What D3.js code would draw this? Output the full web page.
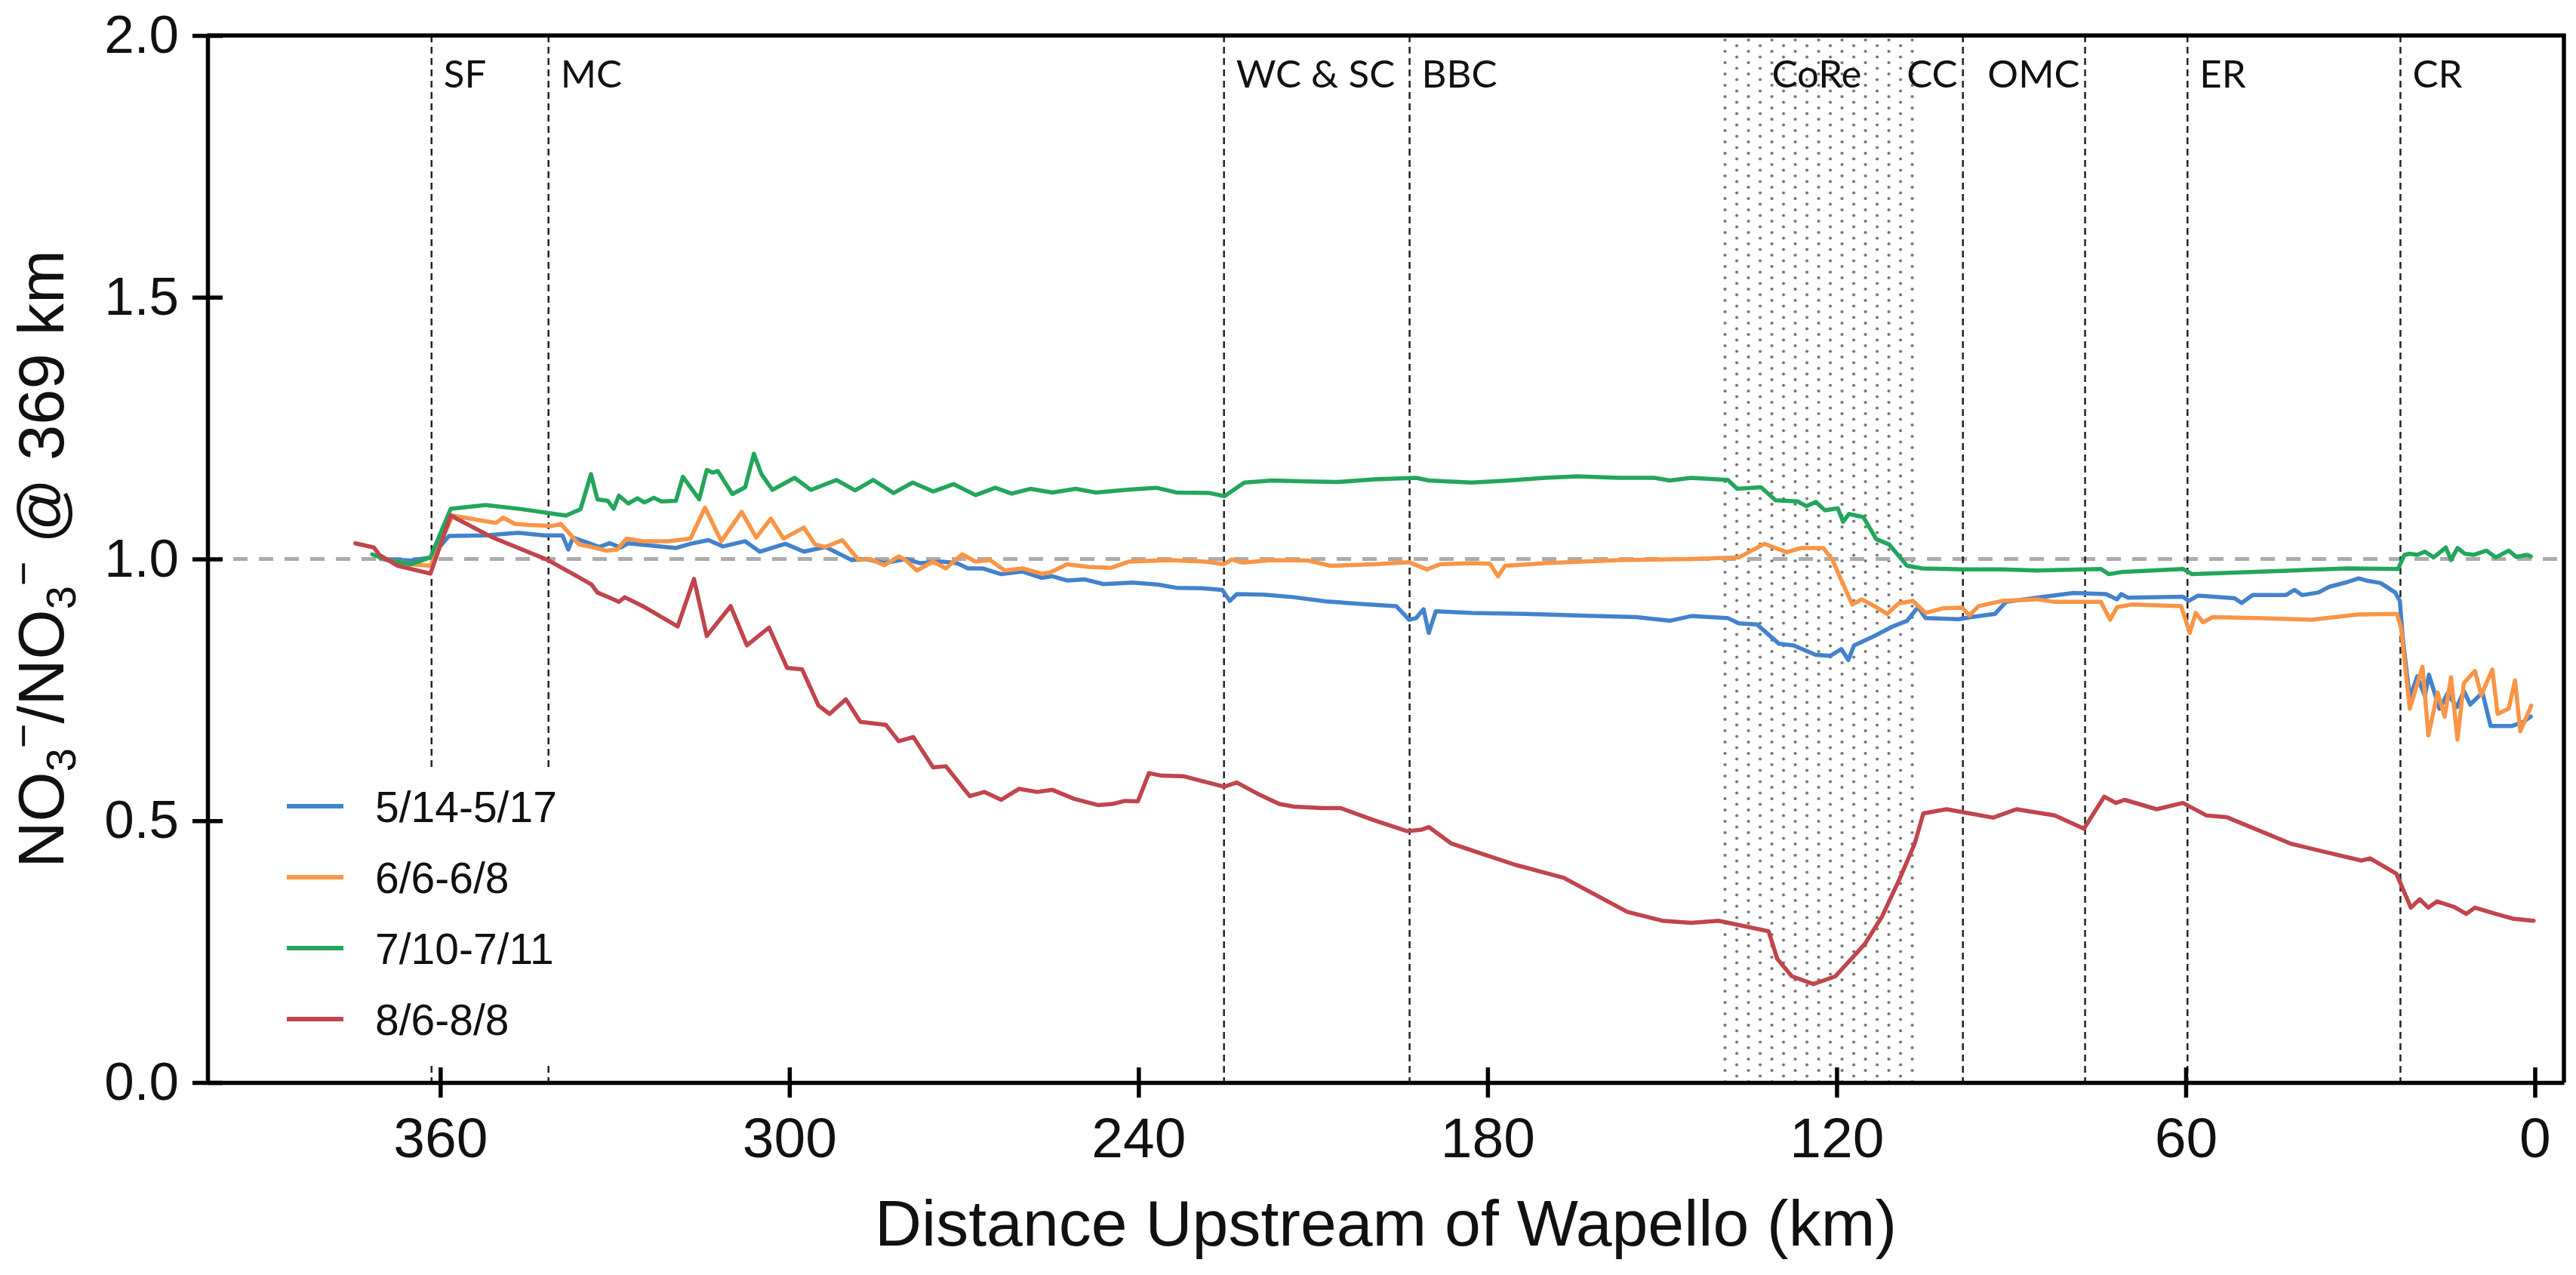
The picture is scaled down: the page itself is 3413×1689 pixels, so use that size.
<!DOCTYPE html>
<html>
<head>
<meta charset="utf-8">
<script src="https://cdn.jsdelivr.net/npm/d3@7"></script>
<style>
    body { margin: 0; background: #fff; }
    svg { display: block; }
</style>
</head>
<body>
<svg id="chart" width="3413" height="1689"></svg>
<script>
// survey dates, one line each
const seriesNames = ['5/14-5/17', '6/6-6/8', '7/10-7/11', '8/6-8/8'];
const seriesColors = ['#4382cc', '#f99546', '#23a65b', '#c0454c'];

// [km upstream of Wapello, NO3 ratio]
const maySeries = [[370.2,1.0],[365,0.997],[361.7,1.003],[358.5,1.044],[352.2,1.045],[346.6,1.05],[342.2,1.045],[339,1.045],[338,1.018],[337.2,1.041],[334.6,1.031],[332.7,1.023],[330.9,1.03],[329,1.022],[327.7,1.03],[324,1.026],[319.5,1.021],[317,1.029],[313.9,1.036],[311.4,1.024],[307.6,1.034],[305.1,1.014],[300.7,1.029],[297.5,1.014],[293.8,1.023],[289.3,0.998],[286.8,1.0],[283.7,0.992],[280,1.0],[277.5,0.992],[273.7,0.995],[271.2,0.992],[269.3,0.982],[266.8,0.982],[263.6,0.971],[259.9,0.976],[256.7,0.964],[254.8,0.967],[252.3,0.959],[249.2,0.961],[246,0.952],[241,0.955],[236.6,0.951],[233.5,0.945],[229.1,0.944],[225.6,0.941],[224.3,0.92],[223.1,0.933],[218.4,0.932],[213.3,0.927],[207.7,0.919],[201.4,0.914],[195.7,0.91],[193.5,0.884],[192.3,0.887],[191,0.904],[190.1,0.859],[188.9,0.9],[182.7,0.897],[173.3,0.895],[163.8,0.892],[154.4,0.889],[148.7,0.882],[145,0.891],[138.7,0.887],[136.8,0.877],[133.7,0.875],[129.9,0.838],[127.4,0.835],[123.6,0.817],[121.1,0.815],[119.2,0.828],[118,0.807],[117,0.835],[113.5,0.853],[110.4,0.871],[107.9,0.882],[106,0.908],[104.7,0.887],[99,0.885],[96.9,0.889],[92.8,0.895],[90.9,0.918],[85.6,0.926],[79.3,0.935],[73.7,0.933],[71.8,0.923],[71.1,0.933],[69.9,0.926],[60.5,0.928],[59.5,0.92],[57.9,0.93],[51.6,0.925],[50.4,0.916],[48.5,0.931],[42.8,0.931],[41.3,0.941],[40,0.931],[37.2,0.936],[35.3,0.947],[32.2,0.956],[30.3,0.963],[29,0.959],[26.5,0.954],[24,0.936],[23.2,0.92],[22.7,0.848],[21.5,0.735],[20.2,0.776],[18.9,0.738],[18.2,0.779],[16.4,0.714],[15,0.743],[13.4,0.717],[12.2,0.748],[11.1,0.722],[9,0.745],[7.6,0.681],[3.9,0.681],[2,0.689],[0.7,0.699]];

const juneSeries = [[369.9,1.0],[365,0.99],[361.7,0.987],[357.9,1.083],[352.2,1.072],[350.4,1.069],[349.2,1.079],[347.2,1.067],[344.7,1.065],[340.9,1.063],[339.3,1.067],[337.8,1.049],[336.2,1.028],[334,1.023],[331.5,1.016],[329.6,1.018],[328,1.039],[325.2,1.034],[320.8,1.034],[317,1.039],[314.5,1.098],[311.7,1.034],[308.2,1.09],[305.7,1.041],[303.2,1.077],[301,1.039],[297.5,1.06],[295.6,1.028],[293.8,1.023],[290.9,1.036],[288.1,0.998],[286.2,1.0],[283.7,0.988],[281.2,1.005],[280,0.998],[278.1,0.978],[275.3,0.995],[273.1,0.982],[270.3,1.009],[268,0.995],[265.5,0.998],[263,0.978],[259.9,0.982],[256.7,0.972],[255.2,0.974],[252.3,0.99],[248.6,0.985],[244.8,0.983],[241.6,0.995],[234.7,0.998],[228.4,0.995],[225.3,0.99],[224,0.999],[222.1,0.993],[217.1,0.998],[210.8,0.997],[207,0.987],[199.5,0.99],[193.5,0.994],[190.4,0.98],[188.2,0.99],[182.7,0.992],[179.6,0.991],[178.2,0.967],[177,0.987],[170.1,0.992],[157.5,0.998],[145,1.0],[136.8,1.003],[132.4,1.029],[128.6,1.013],[126.1,1.021],[122.3,1.021],[120.7,0.998],[119.5,0.967],[117.3,0.913],[115.7,0.923],[113.5,0.91],[111.3,0.895],[109.4,0.915],[106.9,0.92],[104.7,0.897],[101.6,0.906],[98.4,0.907],[97.2,0.892],[95.6,0.91],[91.5,0.92],[85.6,0.923],[82.5,0.918],[74.6,0.918],[73,0.884],[71.8,0.908],[69.3,0.913],[60.8,0.91],[59.3,0.859],[58.3,0.897],[57,0.879],[55.4,0.889],[47.9,0.887],[38.4,0.884],[30.3,0.894],[23.7,0.895],[23,0.869],[21.5,0.714],[19.3,0.794],[18.3,0.663],[16.7,0.745],[15.5,0.699],[14.4,0.774],[13.3,0.655],[12.2,0.763],[10.3,0.786],[9.2,0.74],[7.3,0.789],[6.4,0.704],[4.5,0.714],[3.4,0.768],[2.5,0.671],[0.6,0.72]];

const julySeries = [[371.7,1.009],[369.2,0.998],[365,0.99],[361.7,1.003],[358.2,1.096],[352.2,1.103],[345.9,1.095],[341.5,1.088],[338.4,1.083],[335.9,1.095],[334.1,1.162],[333,1.114],[331.2,1.111],[330.2,1.096],[329.3,1.121],[327.7,1.106],[326.1,1.116],[324.9,1.108],[323.3,1.117],[322,1.11],[319.5,1.111],[318.3,1.157],[315.5,1.114],[314.2,1.17],[313.2,1.165],[312.3,1.168],[309.8,1.124],[307.6,1.137],[306.1,1.201],[304.8,1.162],[302.9,1.132],[299.1,1.155],[296.3,1.132],[291.9,1.151],[288.7,1.131],[285.6,1.151],[282.1,1.126],[278.8,1.146],[275.3,1.129],[271.8,1.143],[268,1.122],[264.6,1.136],[261.8,1.125],[258.6,1.134],[254.8,1.127],[250.8,1.134],[247.3,1.127],[242.3,1.132],[236.9,1.136],[233.5,1.127],[227.8,1.126],[225.2,1.12],[221.8,1.146],[217.1,1.15],[210.8,1.148],[205.8,1.147],[199.5,1.152],[192.3,1.155],[190.1,1.15],[182.7,1.146],[176.4,1.15],[170.1,1.155],[164.5,1.158],[157.5,1.155],[151.3,1.155],[148.7,1.15],[145,1.155],[138.7,1.151],[137.1,1.134],[133,1.137],[130.5,1.112],[126.7,1.11],[125.2,1.101],[123.6,1.109],[122,1.093],[119.8,1.097],[118.9,1.071],[117.9,1.086],[115.4,1.08],[113.2,1.038],[111,1.028],[107.9,0.987],[105.3,0.982],[98.4,0.98],[91.5,0.98],[85.6,0.978],[77.4,0.98],[74.6,0.981],[73.2,0.971],[71.1,0.975],[60.5,0.981],[58.9,0.971],[54.2,0.973],[41.6,0.978],[32.2,0.982],[23.5,0.981],[22.4,1.008],[21.5,1.01],[20.2,1.008],[18.9,1.014],[17.4,1.003],[15.3,1.022],[14.4,0.998],[13.3,1.021],[12,1.01],[10.5,1.008],[8.3,1.016],[6.7,1.003],[4.5,1.016],[3.2,1.004],[1.3,1.008],[0.7,1.005]];

const augustSeries = [[374.6,1.03],[371.4,1.022],[370.5,1.008],[367.3,0.987],[361.7,0.972],[358.2,1.083],[351,1.041],[341.5,0.998],[336.5,0.967],[334,0.951],[333,0.936],[330.9,0.926],[329.3,0.918],[328.3,0.927],[325.2,0.91],[319.2,0.871],[316.4,0.962],[314.2,0.853],[310.1,0.91],[307.3,0.835],[303.5,0.869],[300.4,0.792],[297.8,0.789],[295,0.72],[293.1,0.704],[290.3,0.732],[287.8,0.689],[283.4,0.683],[281.2,0.652],[278.7,0.66],[275.3,0.602],[273.1,0.604],[269,0.547],[266.5,0.555],[263.6,0.54],[260.5,0.561],[257.4,0.555],[254.8,0.559],[251.1,0.542],[247,0.53],[244.5,0.532],[242.3,0.538],[240.1,0.537],[238.2,0.591],[236,0.586],[232.2,0.585],[229.1,0.576],[225.3,0.565],[223.1,0.573],[219.6,0.552],[215.8,0.532],[213.3,0.527],[208.3,0.524],[205.2,0.524],[199.5,0.501],[193.8,0.48],[191.3,0.483],[190.1,0.488],[186.3,0.457],[181.8,0.44],[175.3,0.416],[166.9,0.391],[156,0.326],[150,0.309],[145,0.305],[140.3,0.309],[131.7,0.289],[130.2,0.236],[127.7,0.203],[124,0.188],[120.2,0.203],[115.2,0.264],[112.2,0.317],[109.1,0.391],[106.6,0.456],[105.1,0.514],[101.1,0.522],[93.1,0.506],[89.1,0.522],[82.5,0.51],[77.5,0.485],[74,0.546],[72,0.534],[70.5,0.54],[65,0.522],[60.5,0.534],[56.4,0.51],[53,0.507],[41.9,0.456],[35.9,0.44],[29.8,0.424],[28.3,0.428],[23.8,0.399],[21.3,0.334],[19.8,0.35],[18.3,0.334],[16.8,0.346],[13.8,0.335],[11.8,0.322],[10.3,0.334],[6.7,0.322],[3.8,0.313],[0.2,0.309]];

// tributaries / features along the river
const tribNames = ['SF', 'MC', 'WC & SC', 'BBC', 'CC', 'OMC', 'ER', 'CR'];
const tribKm = [361.5, 341.4, 225.3, 193.4, 98.3, 77.3, 59.7, 23.1];
const tribLabelSide = ['right', 'right', 'right', 'right', 'left', 'left', 'right', 'right'];
const coReName = 'CoRe';
const coReKm = [139.7, 105.6];

const xTicks = [360, 300, 240, 180, 120, 60, 0];
const yTicks = [0, 0.5, 1.0, 1.5, 2.0];
const referenceRatio = 1.0;

function NitrateChart(svgNode) {
    this.svg = d3.select(svgNode);
    this.props = { left: 275, right: 3397, top: 47, bottom: 1434 };
    this.font = '"Liberation Sans", Arial, sans-serif';
    this.x = d3.scaleLinear().domain([400, -5]).range([this.props.left, this.props.right]);
    this.y = d3.scaleLinear().domain([0, 2]).range([this.props.bottom, this.props.top]);
}

NitrateChart.prototype.drawCoRe = function () {
    var _this = this;
    var defs = _this.svg.append('defs');
    var pat = defs.append('pattern')
        .attr('id', 'dots')
        .attr('patternUnits', 'userSpaceOnUse')
        .attr('width', 31)
        .attr('height', 30)
        .attr('patternTransform', 'translate(' + (_this.x(coReKm[0]) + 2) + ',6)');
    // staggered dot columns
    pat.append('circle').attr('cx', 2).attr('cy', 2).attr('r', 2).style('fill', '#6e6e6e');
    pat.append('circle').attr('cx', 2).attr('cy', 17).attr('r', 2).style('fill', '#6e6e6e');
    pat.append('circle').attr('cx', 17.5).attr('cy', 9.5).attr('r', 2).style('fill', '#6e6e6e');
    pat.append('circle').attr('cx', 17.5).attr('cy', 24.5).attr('r', 2).style('fill', '#6e6e6e');
    _this.svg.append('rect')
        .attr('x', _this.x(coReKm[0]))
        .attr('y', _this.props.top)
        .attr('width', _this.x(coReKm[1]) - _this.x(coReKm[0]))
        .attr('height', _this.props.bottom - _this.props.top)
        .style('fill', 'url(#dots)');
};

NitrateChart.prototype.drawGuides = function () {
    var _this = this;
    _this.svg.append('line')
        .attr('x1', _this.props.left).attr('x2', _this.props.right)
        .attr('y1', _this.y(referenceRatio)).attr('y2', _this.y(referenceRatio))
        .style('stroke', '#ababab')
        .style('stroke-width', 5)
        .style('stroke-dasharray', '19,15');

    _this.svg.append('g').selectAll('line')
        .data(tribKm)
        .enter()
        .append('line')
        .attr('x1', function (d) { return _this.x(d) })
        .attr('x2', function (d) { return _this.x(d) })
        .attr('y1', _this.props.top)
        .attr('y2', _this.props.bottom)
        .style('stroke', '#222')
        .style('stroke-width', 2.5)
        .style('stroke-dasharray', '9,6');

    _this.svg.append('g').selectAll('text')
        .data(tribNames)
        .enter()
        .append('text')
        .attr('x', function (d, i) {
            return _this.x(tribKm[i]) + (tribLabelSide[i] === 'left' ? -7 : 16);
        })
        .attr('y', 116)
        .attr('text-anchor', function (d, i) { return tribLabelSide[i] === 'left' ? 'end' : 'start' })
        .style('font-family', 'Lato, "Open Sans", sans-serif')
        .style('font-size', '51px')
        .style('fill', '#111')
        .text(function (d) { return d });

    _this.svg.append('text')
        .attr('x', (_this.x(coReKm[0]) + _this.x(coReKm[1])) / 2 - 6)
        .attr('y', 116)
        .attr('text-anchor', 'middle')
        .style('font-family', 'Lato, "Open Sans", sans-serif')
        .style('font-size', '51px')
        .style('fill', '#111')
        .text(coReName);
};

NitrateChart.prototype.drawLines = function () {
    var _this = this;
    var line = d3.line()
        .x(function (d) { return _this.x(d[0]) })
        .y(function (d) { return _this.y(d[1]) });
    var allSeries = [maySeries, juneSeries, julySeries, augustSeries];
    _this.svg.append('g').selectAll('path')
        .data(allSeries)
        .enter()
        .append('path')
        .attr('d', line)
        .style('fill', 'none')
        .style('stroke', function (d, i) { return seriesColors[i] })
        .style('stroke-width', 5.5)
        .style('stroke-linejoin', 'round')
        .style('stroke-linecap', 'round');
};

NitrateChart.prototype.drawLegend = function () {
    var _this = this;
    var g = _this.svg.append('g').attr('class', 'legend');
    g.append('rect')
        .attr('x', 330).attr('y', 1018)
        .attr('width', 440).attr('height', 390)
        .style('fill', '#fff');
    var rowY = d3.scalePoint().domain(seriesNames).range([1068, 1350]);
    var rows = g.selectAll('g.row').data(seriesNames).enter()
        .append('g').attr('class', 'row')
        .attr('transform', function (d) { return 'translate(0,' + rowY(d) + ')' });
    rows.append('line')
        .attr('x1', 380).attr('x2', 455)
        .style('stroke', function (d, i) { return seriesColors[i] })
        .style('stroke-width', 6);
    rows.append('text')
        .attr('x', 497)
        .attr('dy', '0.36em')
        .style('font-family', _this.font)
        .style('font-size', '57px')
        .style('fill', '#111')
        .text(function (d) { return d });
};

NitrateChart.prototype.drawAxes = function () {
    var _this = this;
    var p = _this.props;
    var xAxis = d3.axisBottom(_this.x).tickValues(xTicks).tickSize(20).tickSizeOuter(0).tickPadding(26);
    var yAxis = d3.axisLeft(_this.y).tickValues(yTicks).tickSize(20).tickSizeOuter(0).tickPadding(18)
        .tickFormat(d3.format('.1f'));

    var gx = _this.svg.append('g')
        .attr('transform', 'translate(0,' + p.bottom + ')')
        .call(xAxis);
    gx.selectAll('.tick line').attr('y1', -20);
    gx.selectAll('text').style('font-size', '75px');

    var gy = _this.svg.append('g')
        .attr('transform', 'translate(' + p.left + ',0)')
        .call(yAxis);
    gy.selectAll('.tick line').attr('x1', 20);
    gy.selectAll('text').style('font-size', '71px');

    _this.svg.selectAll('.domain, .tick line')
        .style('stroke', '#000')
        .style('stroke-width', 5.5);
    _this.svg.selectAll('.tick text')
        .style('font-family', _this.font)
        .style('fill', '#111');

    // frame: top and right
    _this.svg.append('path')
        .attr('d', 'M' + p.left + ',' + p.top + 'H' + p.right + 'V' + p.bottom)
        .style('fill', 'none')
        .style('stroke', '#000')
        .style('stroke-width', 5.5);

    _this.svg.append('text')
        .attr('x', (p.left + p.right) / 2)
        .attr('y', 1650)
        .attr('text-anchor', 'middle')
        .style('font-family', _this.font)
        .style('font-size', '86px')
        .style('fill', '#111')
        .text('Distance Upstream of Wapello (km)');

    var yt = _this.svg.append('text')
        .attr('transform', 'translate(84,' + (p.top + p.bottom) / 2 + ') rotate(-90)')
        .attr('text-anchor', 'middle')
        .style('font-family', _this.font)
        .style('font-size', '85px')
        .style('fill', '#111');
    yt.append('tspan').text('NO');
    yt.append('tspan').attr('dy', 16).style('font-size', '56px').text('3');
    yt.append('tspan').attr('dy', -50).style('font-size', '56px').text('\u2212');
    yt.append('tspan').attr('dy', 34).text('/NO');
    yt.append('tspan').attr('dy', 16).style('font-size', '56px').text('3');
    yt.append('tspan').attr('dy', -50).style('font-size', '56px').text('\u2212');
    yt.append('tspan').attr('dy', 34).text(' @ 369 km');
};

var chart = new NitrateChart(document.getElementById('chart'));
chart.drawCoRe();
chart.drawGuides();
chart.drawLines();
chart.drawLegend();
chart.drawAxes();
</script>
</body>
</html>
